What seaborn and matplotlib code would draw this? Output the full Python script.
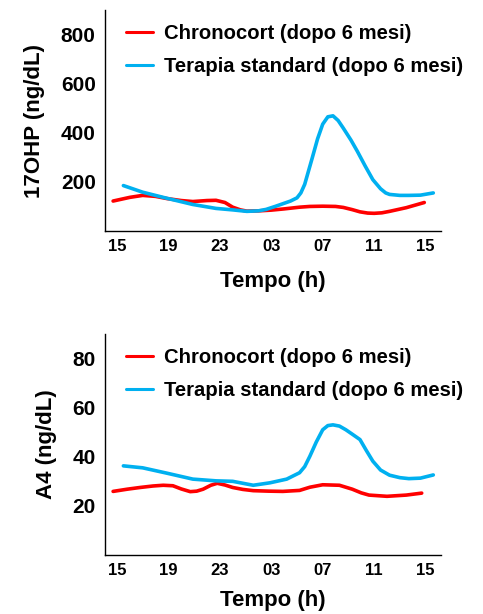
import numpy as np
import pandas as pd
import matplotlib
matplotlib.use("Agg")
import matplotlib.pyplot as plt
import seaborn as sns

# Hours since 15:00 (0 = 15h, 24 = 15h next day)
tick_pos = [0, 4, 8, 12, 16, 20, 24]
tick_labels = ["15", "19", "23", "03", "07", "11", "15"]

series_names = ["Chronocort (dopo 6 mesi)", "Terapia standard (dopo 6 mesi)"]

# 17OHP panel
ohp_chrono_t = [-0.3, 1.0, 2.0, 3.0, 3.9, 5.0, 5.9, 7.0, 7.7, 8.4, 9.0, 9.6, 10.1, 11.0, 12.0, 13.0, 14.2, 15.0, 16.0, 17.0, 17.6, 18.3, 18.9, 19.5, 20.0, 20.6, 21.2, 22.5, 23.9]
ohp_chrono_v = [122, 137, 145, 141, 132, 124, 120, 124, 125, 116, 97, 86, 81, 82, 85, 90, 97, 100, 101, 100, 96, 87, 78, 73, 72, 74, 80, 95, 116]
ohp_std_t = [0.5, 2.0, 3.9, 5.9, 7.7, 9.0, 10.1, 11.0, 11.6, 12.3, 12.9, 13.5, 14.0, 14.3, 14.6, 14.9, 15.2, 15.6, 16.0, 16.4, 16.8, 17.2, 17.6, 18.2, 18.7, 19.3, 19.9, 20.5, 20.9, 21.2, 22.0, 22.7, 23.6, 24.6]
ohp_std_v = [185, 158, 133, 108, 92, 86, 80, 82, 88, 100, 111, 122, 135, 155, 190, 245, 300, 375, 435, 465, 469, 450, 419, 370, 324, 265, 209, 172, 155, 149, 145, 145, 146, 155]

# A4 panel
a4_chrono_t = [-0.3, 0.8, 1.8, 2.8, 3.6, 4.35, 5.0, 5.7, 6.2, 6.7, 7.3, 7.8, 8.4, 9.0, 9.8, 10.6, 11.8, 12.9, 14.2, 15.0, 16.0, 17.3, 18.3, 19.0, 19.6, 21.0, 22.5, 23.7]
a4_chrono_v = [25.9, 26.8, 27.5, 28.1, 28.4, 28.2, 26.9, 25.8, 26.0, 26.8, 28.4, 29.2, 28.5, 27.5, 26.7, 26.2, 26.0, 25.9, 26.3, 27.6, 28.6, 28.4, 26.8, 25.3, 24.4, 23.9, 24.4, 25.2]
a4_std_t = [0.5, 2.0, 3.9, 5.9, 7.7, 9.0, 10.6, 11.9, 13.2, 14.2, 14.6, 15.0, 15.5, 16.0, 16.4, 16.8, 17.3, 17.8, 18.3, 18.9, 19.4, 19.9, 20.5, 21.2, 22.0, 22.7, 23.6, 24.6]
a4_std_v = [36.3, 35.5, 33.3, 30.9, 30.2, 30.0, 28.4, 29.4, 30.9, 33.5, 36.0, 40.2, 46.0, 51.0, 52.7, 53.0, 52.5, 51.0, 49.2, 47.0, 42.5, 38.2, 34.6, 32.5, 31.5, 31.1, 31.3, 32.6]

ohp_yticks = [200, 400, 600, 800]
a4_yticks = [20, 40, 60, 80]

colors = {series_names[0]: "#FF0000", series_names[1]: "#00B0F0"}

def make_df(t1, v1, t2, v2):
    return pd.concat([
        pd.DataFrame({"t": t1, "v": v1, "s": series_names[0]}),
        pd.DataFrame({"t": t2, "v": v2, "s": series_names[1]}),
    ], ignore_index=True)

sns.set_style("white")
plt.rcParams["font.family"] = ["Liberation Sans", "DejaVu Sans"]
plt.rcParams["font.weight"] = "bold"
plt.rcParams["text.color"] = "black"
plt.rcParams["axes.labelcolor"] = "black"
plt.rcParams["xtick.color"] = "black"
plt.rcParams["ytick.color"] = "black"

fig = plt.figure(figsize=(4.83, 6.14), dpi=100)
ax1 = fig.add_axes([105/483, 1 - 231/614, 336/483, 221/614])
ax2 = fig.add_axes([105/483, 1 - 555/614, 336/483, 221/614])

panels = [
    (ax1, make_df(ohp_chrono_t, ohp_chrono_v, ohp_std_t, ohp_std_v), "17OHP (ng/dL)", ohp_yticks, (0, 900), 12),
    (ax2, make_df(a4_chrono_t, a4_chrono_v, a4_std_t, a4_std_v), "A4 (ng/dL)", a4_yticks, (0, 90), 9),
]

for ax, df, ylabel, yticks, ylim, xpad in panels:
    sns.lineplot(data=df, x="t", y="v", hue="s", palette=colors, ax=ax,
                 linewidth=2.6, sort=False, estimator=None, legend=True)
    ax.set_xlim(-0.93, 25.2)
    ax.set_ylim(*ylim)
    ax.set_xticks(tick_pos)
    ax.set_xticklabels(tick_labels, fontsize=12, fontweight="bold", color="black")
    ax.set_yticks(yticks)
    ax.set_yticklabels([str(y) for y in yticks], fontsize=15, fontweight="bold", color="black")
    ax.set_xlabel("Tempo (h)", fontsize=16, fontweight="bold", labelpad=xpad, color="black")
    ax.set_ylabel(ylabel, fontsize=16, fontweight="bold", labelpad=11, color="black")
    for side in ["top", "right"]:
        ax.spines[side].set_visible(False)
    for side in ["left", "bottom"]:
        ax.spines[side].set_color("black")
        ax.spines[side].set_linewidth(1.0)
    ax.tick_params(axis="y", direction="inout", length=11.5, width=1.0, color="black", pad=1)
    ax.tick_params(axis="x", direction="inout", length=9.5, width=1.0, color="black", pad=1)
    leg = ax.legend(loc="upper left", bbox_to_anchor=(0.02, 1.0), frameon=False,
                    prop={"size": 14.6, "weight": "bold"}, handlelength=1.35,
                    handletextpad=0.55, labelspacing=0.68, borderaxespad=0.3)
    for txt in leg.get_texts():
        txt.set_color("black")
    for h in leg.get_lines():
        h.set_linewidth(2.2)

fig.savefig("out.png", dpi=100)
